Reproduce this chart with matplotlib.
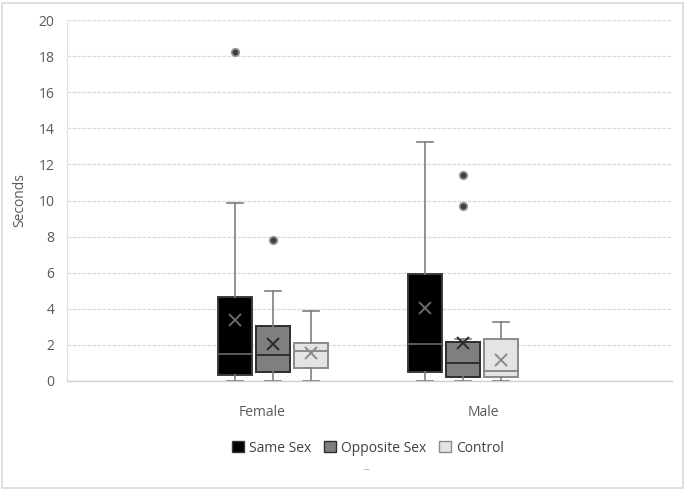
import matplotlib
matplotlib.use("Agg")
import matplotlib.pyplot as plt
from matplotlib.patches import Rectangle, Patch

plt.rcParams['font.family'] = ['Open Sans', 'DejaVu Sans']

categories = ["Female", "Male"]
series = ["Same Sex", "Opposite Sex", "Control"]
yticks = [0, 2, 4, 6, 8, 10, 12, 14, 16, 18, 20]

# per series: [Female, Male]
whislo = {"Same Sex": [0.0, 0.0], "Opposite Sex": [0.0, 0.0], "Control": [0.0, 0.0]}
q1 = {"Same Sex": [0.33, 0.5], "Opposite Sex": [0.5, 0.22], "Control": [0.72, 0.2]}
med = {"Same Sex": [1.5, 2.05], "Opposite Sex": [1.44, 1.0], "Control": [1.66, 0.55]}
q3 = {"Same Sex": [4.65, 5.93], "Opposite Sex": [3.05, 2.15], "Control": [2.1, 2.33]}
whishi = {"Same Sex": [9.85, 13.24], "Opposite Sex": [5.0, 2.3], "Control": [3.88, 3.27]}
mean = {"Same Sex": [3.38, 4.04], "Opposite Sex": [2.05, 2.1], "Control": [1.55, 1.17]}
fliers = {"Same Sex": [[18.2], []], "Opposite Sex": [[7.8], [11.42, 9.72]], "Control": [[], []]}

face = {"Same Sex": "#000000", "Opposite Sex": "#7f7f7f", "Control": "#e4e4e4"}
edge = {"Same Sex": "#3a3a3a", "Opposite Sex": "#2e2e2e", "Control": "#8a8a8a"}
medc = {"Same Sex": "#5a5a5a", "Opposite Sex": "#2e2e2e", "Control": "#8a8a8a"}
meanc = {"Same Sex": "#6a6a6a", "Opposite Sex": "#2a2a2a", "Control": "#8a8a8a"}
offsets = [-0.2, 0.0, 0.2]

fig = plt.figure(figsize=(6.85, 4.91), dpi=100)
ax = fig.add_axes([67/685, 110/491, 605/685, 361/491])

for si, s in enumerate(series):
    stats = []
    for ci in range(len(categories)):
        stats.append(dict(whislo=whislo[s][ci], q1=q1[s][ci], med=med[s][ci], q3=q3[s][ci],
                          whishi=whishi[s][ci], mean=mean[s][ci], fliers=fliers[s][ci]))
    pos = [ci + offsets[si] for ci in range(len(categories))]
    ax.bxp(stats, positions=pos, widths=0.178, patch_artist=True, showmeans=True,
           capwidths=0.08, manage_ticks=False,
           boxprops=dict(facecolor=face[s], edgecolor=edge[s], linewidth=1.4),
           medianprops=dict(color=medc[s], linewidth=1.4),
           whiskerprops=dict(color="#7f7f7f", linewidth=1.2),
           capprops=dict(color="#7f7f7f", linewidth=1.2),
           meanprops=dict(marker="x", markeredgecolor=meanc[s], markersize=9, markeredgewidth=1.4),
           flierprops=dict(marker="o", markerfacecolor="#404040", markeredgecolor="#9a9a9a",
                           markersize=5.5, markeredgewidth=1.2),
           zorder=3)

ax.set_xlim(-1.084, 2.1)
ax.set_ylim(0, 20)
ax.set_yticks(yticks)
ax.set_yticklabels([str(t) for t in yticks], color="#595959", fontsize=10)
ax.set_xticks([-0.058, 1.105])
ax.set_xticklabels(categories, color="#595959", fontsize=10)
ax.tick_params(axis="y", length=0, pad=9)
ax.tick_params(axis="x", length=0, pad=17)
ax.set_ylabel("Seconds", color="#595959", fontsize=10, labelpad=8)
ax.yaxis.grid(True, color="#d9d9d9", linestyle=(0, (3, 1)), linewidth=0.9, zorder=0)
ax.set_axisbelow(True)
for sp in ["top", "right"]:
    ax.spines[sp].set_visible(False)
ax.spines["left"].set_color("#e0e0e0")
ax.spines["bottom"].set_color("#d0d0d0")
ax.spines["bottom"].set_linewidth(1.0)

handles = [Patch(facecolor=face[s], edgecolor=edge[s], linewidth=1.0) for s in series]
fig.legend(handles, series, loc="center", bbox_to_anchor=(368/685, 1 - 448/491), ncol=3,
           frameon=False, fontsize=10, handlelength=0.85, handleheight=0.85,
           handletextpad=0.4, columnspacing=0.9, labelcolor="#404040")
fig.text(366/685, 1 - 470/491, "–", ha="center", va="center", color="#a0a0a0", fontsize=8)

fig.patches.append(Rectangle((2/685, 3/491), 681/685, 485/491, transform=fig.transFigure,
                             fill=False, edgecolor="#d9d9d9", linewidth=1.2))
fig.savefig("out.png", dpi=100, facecolor="white")
